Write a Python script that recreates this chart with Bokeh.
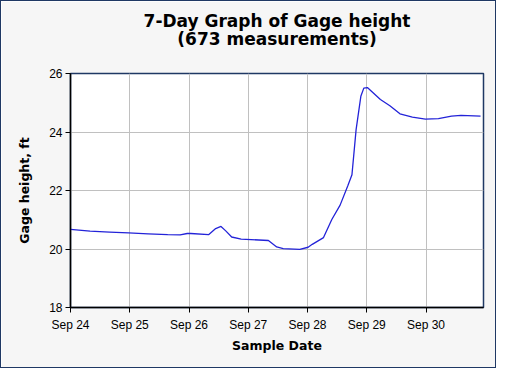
import datetime as dt
from bokeh.plotting import figure
from bokeh.models import (ColumnDataSource, Range1d, FixedTicker, DatetimeTickFormatter, Title)
from bokeh.embed import file_html
from bokeh.resources import INLINE

# ---- data ----
start_date = dt.datetime(2023, 9, 24)
days_since_start = [0.00, 0.33, 0.66, 0.98, 1.31, 1.64, 1.85, 1.97, 2.03, 2.33, 2.45, 2.54,
                    2.62, 2.72, 2.88, 3.34, 3.48, 3.59, 3.87, 4.01, 4.08, 4.27, 4.41, 4.55,
                    4.68, 4.75, 4.82, 4.90, 4.95, 5.01, 5.23, 5.39, 5.56, 5.77, 5.99, 6.21,
                    6.43, 6.59, 6.92]
gage_height = [20.67, 20.61, 20.58, 20.55, 20.52, 20.49, 20.48, 20.53, 20.53, 20.49, 20.70, 20.77,
               20.62, 20.41, 20.34, 20.29, 20.07, 20.01, 19.99, 20.06, 20.16, 20.39, 21.01, 21.50,
               22.16, 22.54, 24.08, 25.22, 25.50, 25.52, 25.11, 24.90, 24.62, 24.51, 24.44, 24.46,
               24.54, 24.57, 24.54]
x_tick_days = [0, 1, 2, 3, 4, 5, 6]
y_ticks = [18, 20, 22, 24, 26]
title_line1 = "7-Day Graph of Gage height"
title_line2 = "(673 measurements)"
x_label = "Sample Date"
y_label = "Gage height, ft"

times = [start_date + dt.timedelta(days=d) for d in days_since_start]
src = ColumnDataSource(data=dict(t=times, h=gage_height))

x_start = start_date
x_end = start_date + dt.timedelta(days=6.97)

W, H = 496, 368
LEFT, RIGHT, TOP, BOTTOM = 69, 14, 72, 62

p = figure(width=W, height=H, output_backend="svg", toolbar_location=None,
           x_axis_type="datetime",
           x_range=Range1d(x_start, x_end), y_range=Range1d(18, 26),
           min_border_left=LEFT, min_border_right=RIGHT,
           min_border_bottom=BOTTOM, min_border_top=TOP)

p.background_fill_color = "white"
p.border_fill_color = "#F6F6F6"
p.outline_line_color = "#1F3864"
p.outline_line_width = 1.5

p.line("t", "h", source=src, line_color="#2323D8", line_width=1.3)

tick_ms = [(start_date + dt.timedelta(days=d) - dt.datetime(1970, 1, 1)).total_seconds() * 1000
           for d in x_tick_days]
p.xaxis.ticker = FixedTicker(ticks=tick_ms)
p.xaxis.formatter = DatetimeTickFormatter(days="%b %d", months="%b %d", hours="%b %d")
p.yaxis.ticker = FixedTicker(ticks=y_ticks)

for ax in (p.xaxis, p.yaxis):
    ax.axis_line_color = "black"
    ax.axis_line_width = 1.5
    ax.major_tick_line_color = "black"
    ax.major_tick_in = 0
    ax.major_tick_out = 5
    ax.minor_tick_line_color = None
    ax.major_label_text_font = "Liberation Sans"
    ax.major_label_text_font_size = "12px"
    ax.major_label_text_color = "black"
    ax.axis_label_text_font = "DejaVu Sans"
    ax.axis_label_text_font_style = "bold"
    ax.axis_label_text_font_size = "12.5px"
    ax.axis_label_text_color = "black"

p.xaxis.axis_label = x_label
p.yaxis.axis_label = y_label
p.xaxis.major_label_standoff = 5
p.yaxis.major_label_standoff = 3
p.xaxis.axis_label_standoff = 3
p.yaxis.axis_label_standoff = 14

p.grid.grid_line_color = "#C0C0C0"
p.grid.grid_line_width = 1

title_style = dict(align="center", offset=-27.5, text_font="DejaVu Sans",
                   text_font_size="17px", text_font_style="bold", text_color="black")
# spacer between the plot frame and the two title lines
p.add_layout(Title(text=" ", standoff=26, align="center", text_font_size="1px"), "above")
p.add_layout(Title(text=title_line2, standoff=-8, **title_style), "above")
p.add_layout(Title(text=title_line1, standoff=0, **title_style), "above")

p.styles = {"border": "1px solid #1F3864", "box-sizing": "border-box"}

open("out.html", "w").write(file_html(p, INLINE))
